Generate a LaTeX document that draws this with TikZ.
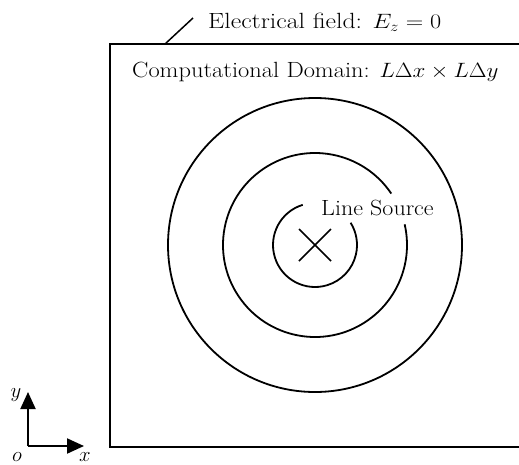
\documentclass[tikz,border=0pt]{standalone}
\usetikzlibrary{arrows.meta,calc}
\newcommand{\widetxt}[2][1.09]{\scalebox{#1}[1]{#2}}
\begin{document}
\begin{tikzpicture}[x=1pt,y=-1pt,
  lbl/.style={inner sep=0pt,font=\fontsize{22}{26}\selectfont},
  thick line/.style={line width=1.8pt},
  axis/.style={line width=2pt,-{Triangle[length=17pt,width=15pt]}}]
\useasboundingbox (0,0) rectangle (519,464);
% domain box (right edge lies outside the picture)
\coordinate (tl) at (110,44);
\coordinate (bl) at (110,447);
\coordinate (tr) at (522,44);
\coordinate (br) at (522,447);
\draw[thick line] (tr) -- (tl) -- (bl) -- (br);
% labels
\node[lbl,anchor=base west] (ef) at (208,28) {\widetxt[1.17]{Electrical field: $E_z = 0$}};
\coordinate (lead) at (165,44);
\draw[line width=1.5pt] (lead) -- (193,18);
\node[lbl,anchor=base west] (cd) at (132,77) {\widetxt[1.11]{Computational Domain: $L\Delta x \times L\Delta y$}};
\node[lbl,anchor=base west] (ls) at (321,215) {\widetxt{Line Source}};
% circles
\coordinate (c) at (315,245);
\draw[thick line] (c) circle[radius=147];
\draw[thick line] ($(c)+(-34:92)$) arc[start angle=-34,end angle=-373,radius=92];
\draw[thick line] ($(c)+(-107:42)$) arc[start angle=-107,end angle=-392,radius=42];
\draw[line width=1.5pt] ($(c)+(-16,-16)$) -- ($(c)+(16,16)$);
\draw[line width=1.5pt] ($(c)+(-16,16)$) -- ($(c)+(16,-16)$);
% axes
\coordinate (o) at (28,446);
\coordinate (ytip) at (28,392);
\coordinate (xtip) at (84,446);
\draw[axis] (o) -- (ytip);
\draw[axis] (o) -- (xtip);
\node[lbl,anchor=base] (ylab) at (16,397) {$y$};
\node[lbl,anchor=base] (olab) at (17,461) {$o$};
\node[lbl,anchor=base] (xlab) at (85,461) {$x$};
\end{tikzpicture}
\end{document}
